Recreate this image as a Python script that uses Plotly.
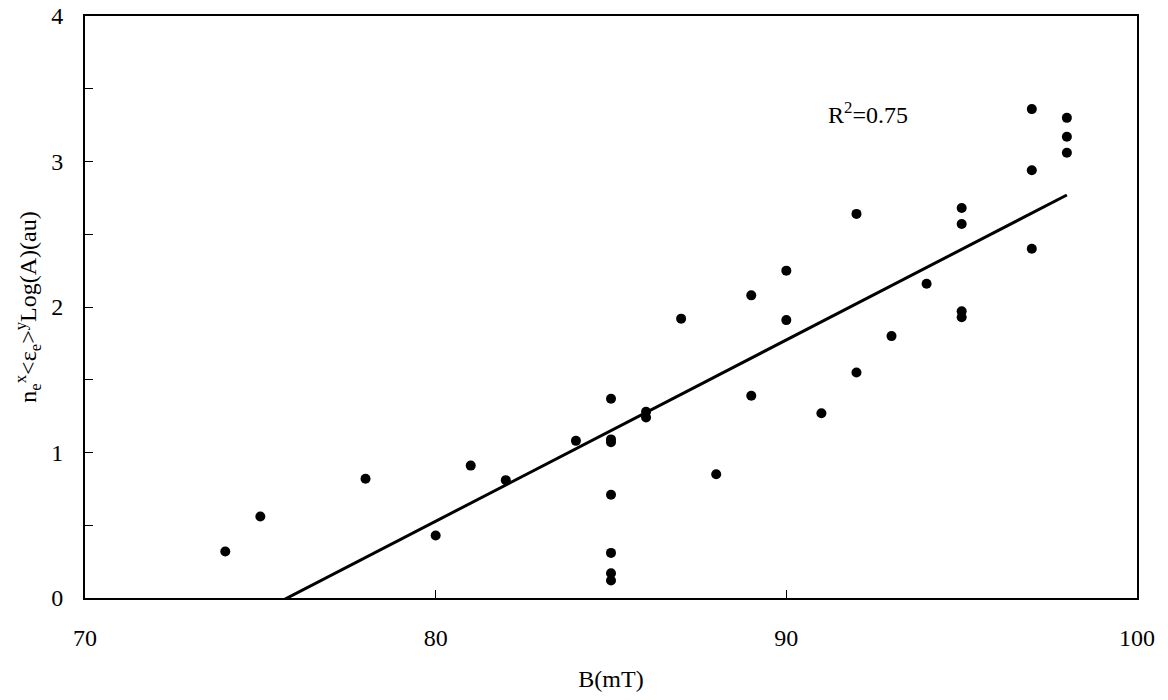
import plotly.graph_objects as go

# Data
b_mT = [74, 75, 78, 80, 81, 82, 84, 85, 85, 85, 85, 85, 85, 85, 86, 86, 87, 88, 89, 89,
        90, 90, 91, 92, 92, 93, 94, 95, 95, 95, 95, 97, 97, 97, 98, 98, 98]
value = [0.32, 0.56, 0.82, 0.43, 0.91, 0.81, 1.08, 1.37, 1.09, 1.07, 0.71, 0.31, 0.17, 0.12,
         1.28, 1.24, 1.92, 0.85, 2.08, 1.39, 2.25, 1.91, 1.27, 2.64, 1.55, 1.80, 2.16, 2.68,
         2.57, 1.97, 1.93, 3.36, 2.94, 2.40, 3.30, 3.17, 3.06]

trend_x = [74, 98]
trend_y = [-0.22, 2.77]
r2_text = "R<sup>2</sup>=0.75"

x_ticks = [70, 80, 90, 100]
y_ticks = [0, 1, 2, 3, 4]

FONT = "Liberation Serif"

fig = go.Figure()
fig.add_trace(go.Scatter(x=b_mT, y=value, mode="markers",
                         marker=dict(color="black", size=10, line=dict(width=0)),
                         showlegend=False, cliponaxis=False))
fig.add_trace(go.Scatter(x=trend_x, y=trend_y, mode="lines",
                         line=dict(color="black", width=3), showlegend=False))

fig.add_annotation(x=92.33, y=3.33, text=r2_text, showarrow=False,
                   font=dict(family=FONT, size=24, color="black"), xanchor="center", yanchor="middle")

fig.update_layout(
    width=1168, height=700,
    margin=dict(l=85, r=31, t=16, b=102),
    paper_bgcolor="white", plot_bgcolor="white",
    font=dict(family=FONT, size=24, color="black"),
    showlegend=False,
)
fig.update_xaxes(range=[70, 100], tickvals=x_ticks, ticks="inside", ticklen=8, tickcolor="black",
                 tickfont=dict(family=FONT, size=24), ticklabeloverflow="allow", automargin=False,
                 showline=True, linecolor="black", linewidth=2, mirror=True,
                 showgrid=False, zeroline=False, ticklabelstandoff=17,
                 title=dict(text="B(mT)", font=dict(family=FONT, size=24), standoff=20))
fig.update_yaxes(range=[0, 4], tickvals=y_ticks, ticks="inside", ticklen=8, tickcolor="black",
                 tickfont=dict(family=FONT, size=24), ticklabeloverflow="allow", automargin=False,
                 minor=dict(dtick=0.5, ticks="inside", ticklen=8, tickcolor="black"),
                 showline=True, linecolor="black", linewidth=2, mirror=True,
                 showgrid=False, zeroline=False, ticklabelstandoff=15,
                 title=dict(text="n<sub>e</sub><sup>x</sup>&lt;ε<sub>e</sub>&gt;<sup>y</sup>Log(A)(au)",
                            font=dict(family=FONT, size=24), standoff=8))

fig.write_html("out.html", config={"displayModeBar": False},
               post_script="document.body.style.margin='0px';")
